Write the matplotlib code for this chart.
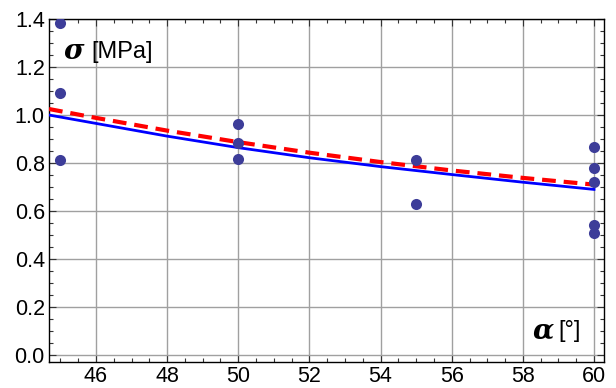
import numpy as np
import matplotlib.pyplot as plt
from matplotlib.ticker import MultipleLocator

# measured points
alpha_pts = [45, 45, 45, 50, 50, 50, 55, 55, 60, 60, 60, 60, 60]
sigma_pts = [1.385, 1.09, 0.813, 0.961, 0.882, 0.818, 0.813, 0.628, 0.868, 0.78, 0.72, 0.542, 0.51]

# fitted curves
fit_x = [44.68, 46, 48, 50, 52, 54, 56, 58, 60]
fit_blue = [1.0, 0.965, 0.912, 0.864, 0.822, 0.785, 0.752, 0.72, 0.69]
fit_red = [1.025, 0.988, 0.935, 0.887, 0.843, 0.804, 0.769, 0.738, 0.71]

xticks = [46, 48, 50, 52, 54, 56, 58, 60]
yticks = [0.0, 0.2, 0.4, 0.6, 0.8, 1.0, 1.2, 1.4]

plt.rcParams['font.family'] = ['Liberation Sans', 'DejaVu Sans']

fig = plt.figure(figsize=(6.16, 3.88), dpi=100)
ax = fig.add_axes([49 / 616, 26 / 388, 555 / 616, 343 / 388])

ax.plot(fit_x, fit_blue, color='#0000ff', lw=2.0, zorder=3)
ax.plot(fit_x, fit_red, color='#ff0000', lw=3.0, dashes=(3.3, 1.9), zorder=4)
ax.plot(alpha_pts, sigma_pts, 'o', color='#3d3d99', ms=8, mec='none', zorder=5)

ax.set_xlim(44.68, 60.28)
ax.set_ylim(-0.029, 1.4)
ax.set_xticks(xticks)
ax.set_yticks(yticks)
ax.xaxis.set_minor_locator(MultipleLocator(0.5))
ax.yaxis.set_minor_locator(MultipleLocator(0.05))
ax.tick_params(which='both', direction='in', top=True, right=True,
               labelsize=15.5, width=0.8, color='#333333', pad=3)
ax.tick_params(which='major', length=5)
ax.tick_params(which='minor', length=3)
ax.set_yticklabels(['%.1f' % v for v in yticks])
ax.grid(True, color='#a0a0a0', lw=1)
ax.set_axisbelow(True)
for s in ax.spines.values():
    s.set_linewidth(1)

ax.text(0.027, 0.905, '\u03c3', transform=ax.transAxes, fontsize=20,
        fontstyle='italic', fontweight='bold', family='DejaVu Serif',
        va='center', ha='left')
ax.text(0.077, 0.905, '[MPa]', transform=ax.transAxes, fontsize=17,
        va='center', ha='left')
ax.text(0.872, 0.09, '\u03b1', transform=ax.transAxes, fontsize=20,
        fontstyle='italic', fontweight='bold', family='DejaVu Serif',
        va='center', ha='left')
ax.text(0.917, 0.09, '[\u00b0]', transform=ax.transAxes, fontsize=17,
        va='center', ha='left')

fig.savefig('out.png', dpi=100)
